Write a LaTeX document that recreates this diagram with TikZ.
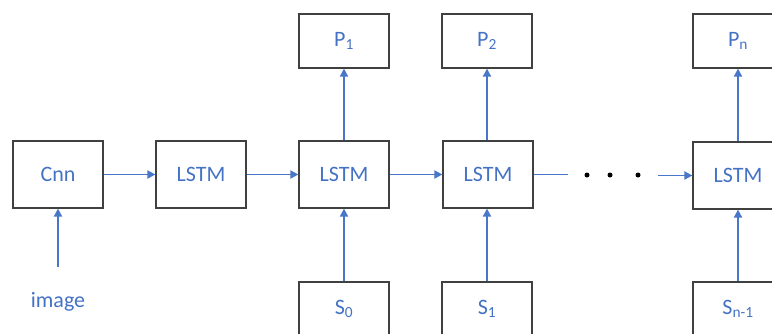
\documentclass[tikz,border=0pt]{standalone}
\usepackage{fontspec}
\setmainfont{Carlito}
\usetikzlibrary{arrows.meta}
\definecolor{txtblue}{RGB}{68,114,196}
\definecolor{lnblue}{RGB}{72,118,200}
\definecolor{boxgray}{RGB}{64,64,64}
\newcommand{\lbl}[2]{#1\textsubscript{#2}}
\begin{document}
\begin{tikzpicture}[x=1pt,y=-1pt,
  box/.style={draw=boxgray,line width=1.2pt,minimum width=90pt,text=txtblue,
              font=\fontsize{22}{26}\selectfont,inner sep=0pt},
  cell/.style={box,minimum height=67pt},
  io/.style={box,minimum height=54pt},
  flow/.style={lnblue,line width=1.8pt,-{Triangle[length=8pt,width=8pt]}},
  link/.style={lnblue,line width=1.8pt},
  dot/.style={circle,fill=black,inner sep=0pt,minimum size=5pt}]
\useasboundingbox (0,0) rectangle (772,333);
\clip (0,0) rectangle (772,333);

% encoder and recurrent cells
\node[cell] (cnn) at (58,174.5) {Cnn};
\node[cell] (l0) at (201,174.5) {LSTM};
\node[cell] (l1) at (344,174.5) {LSTM};
\node[cell] (l2) at (488,174.5) {LSTM};
\node[cell] (ln) at (738,175.5) {LSTM};

% outputs
\node[io] (p1) at (344,41) {\lbl{P}{1}};
\node[io] (p2) at (487,41) {\lbl{P}{2}};
\node[io] (pn) at (738,41) {\lbl{P}{n}};

% inputs
\node[io] (s0) at (344,309) {\lbl{S}{0}};
\node[io] (s1) at (487,309) {\lbl{S}{1}};
\node[io] (sn) at (738,309) {\lbl{S}{n-1}};

\node[text=txtblue,font=\fontsize{22}{26}\selectfont] (img) at (58,302) {image};
\coordinate (imgin) at (58,267);

% horizontal chain
\draw[flow] (cnn) -- (l0);
\draw[flow] (l0) -- (l1);
\draw[flow] (l1) -- (l2);
\coordinate (gapa) at (568,174.5);
\coordinate (gapb) at (658,175.5);
\draw[link] (l2.east) -- (gapa);
\node[dot] (d1) at (587,175) {};
\node[dot] (d2) at (610,175) {};
\node[dot] (d3) at (638,175) {};
\draw[flow] (gapb) -- (ln.west |- gapb);

% vertical connections
\draw[flow] (imgin) -- (cnn);
\draw[flow] (l1) -- (p1);
\draw[flow] (l2.north -| p2) -- (p2);
\draw[flow] (ln) -- (pn);
\draw[flow] (s0) -- (l1);
\draw[flow] (s1) -- (l2.south -| s1);
\draw[flow] (sn) -- (ln);
\end{tikzpicture}
\end{document}
